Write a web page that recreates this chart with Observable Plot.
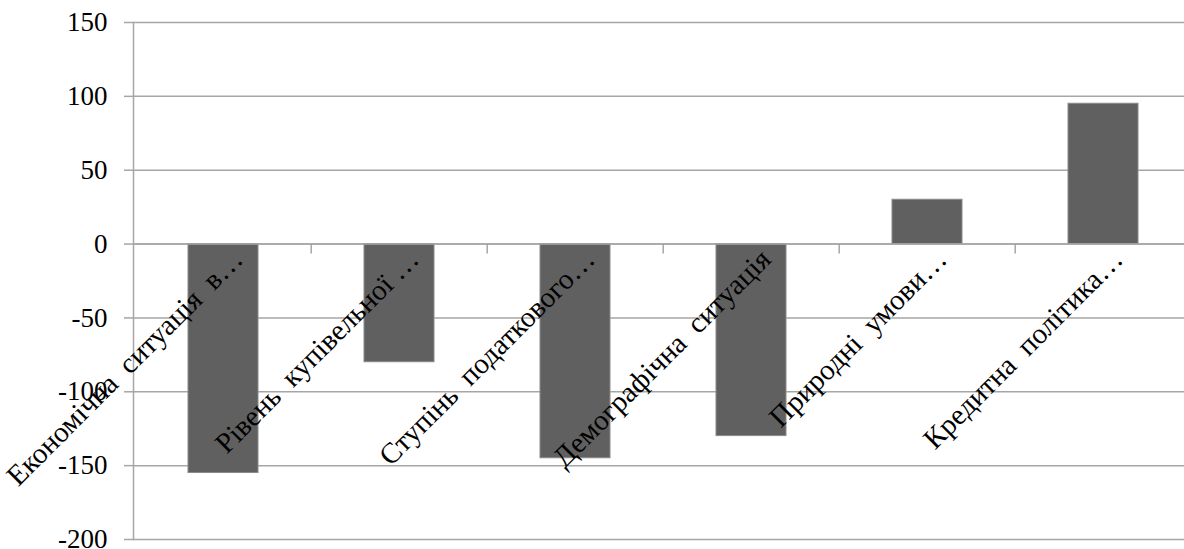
<!DOCTYPE html>
<html><head><meta charset="utf-8">
<script src="https://cdn.jsdelivr.net/npm/d3@7"></script>
<script src="https://cdn.jsdelivr.net/npm/@observablehq/plot@0.6"></script>
<style>html,body{margin:0;padding:0;background:#fff;overflow:hidden}</style>
</head><body><div id="chart"></div>
<script>
const categories = ["Економічна  ситуація  в…", "Рівень  купівельної …", "Ступінь  податкового…", "Демографічна  ситуація", "Природні  умови…", "Кредитна  політика…"];
const values = [-155, -80, -145, -130, 30, 95];
const yTicks = [-200, -150, -100, -50, 0, 50, 100, 150];

const data = categories.map((c, i) => ({category: c, value: values[i]}));
const gridColor = "#a6a6a6";
const font = "Liberation Serif";
const pInner = 0.6;

function bandTicks(index, scales) {
  const x = scales.x, y = scales.y;
  const step = x(categories[1]) - x(categories[0]);
  const gap = step * pInner;
  const g = d3.create("svg:g").attr("stroke", gridColor).attr("stroke-width", 1.5);
  const y0 = y(0);
  categories.slice(1).forEach(c => {
    const bx = x(c) - gap / 2;
    g.append("line").attr("x1", bx).attr("x2", bx).attr("y1", y0).attr("y2", y0 + 10);
  });
  return g.node();
}

const chart = Plot.plot({
  width: 1184,
  height: 549,
  marginLeft: 133,
  marginRight: -9,
  marginTop: 22,
  marginBottom: 10,
  style: {fontFamily: font, fontSize: "27px", color: "black", background: "white"},
  x: {domain: categories, paddingInner: pInner, paddingOuter: 0.3, axis: null},
  y: {domain: [-200, 150], axis: null},
  marks: [
    Plot.gridY(yTicks, {stroke: gridColor, strokeOpacity: 1, strokeWidth: 1.5}),
    Plot.axisY({ticks: yTicks, label: null, tickSize: 9, tickPadding: 17, stroke: gridColor, strokeWidth: 1.5, fill: "black", fontSize: 27, fontFamily: font, tickFormat: d => d < 0 ? "-" + Math.abs(d) : String(d)}),
    Plot.frame({anchor: "left", stroke: gridColor, strokeWidth: 1.5}),
    Plot.barY(data, {x: "category", y: "value", fill: "#606060", stroke: "#8a8a8a", strokeWidth: 1}),
    Plot.ruleY([0], {stroke: gridColor, strokeWidth: 1.5}),
    bandTicks,
    Plot.text(data, {x: "category", y: () => 0, text: "category", rotate: -45, textAnchor: "end", lineAnchor: "bottom", dx: 21, dy: 17, fill: "black", fontSize: 29, fontFamily: font})
  ]
});
document.getElementById("chart").appendChild(chart);
</script>
</body></html>
